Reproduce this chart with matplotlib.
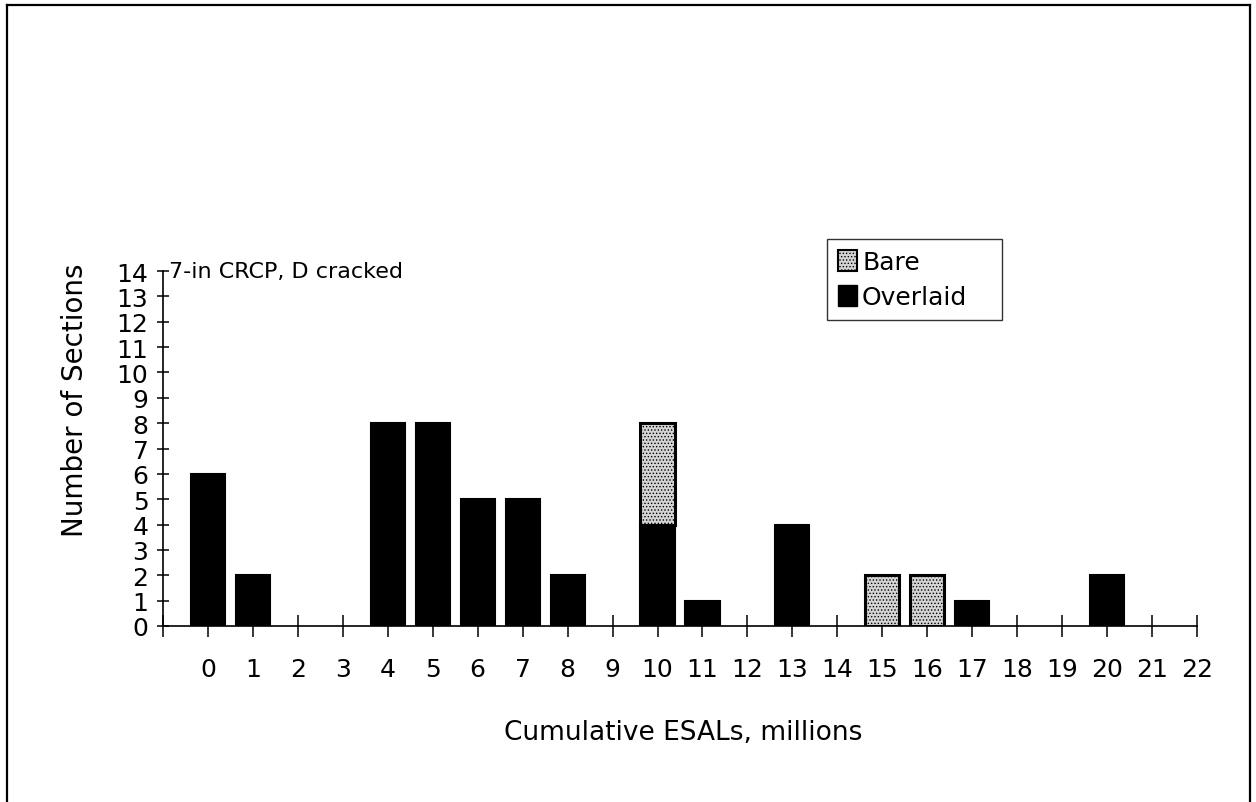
import matplotlib
matplotlib.use("Agg")
import matplotlib.pyplot as plt
from matplotlib.patches import Patch
from matplotlib.lines import Line2D

plt.rcParams['font.family'] = ['DejaVu Sans']
plt.rcParams['hatch.linewidth'] = 0.6

categories = list(range(0, 23))
overlaid = [6, 2, 0, 0, 8, 8, 5, 5, 2, 0, 4, 1, 0, 4, 0, 0, 0, 1, 0, 0, 2, 0, 0]
bare = [0, 0, 0, 0, 0, 0, 0, 0, 0, 0, 4, 0, 0, 0, 0, 2, 2, 0, 0, 0, 0, 0, 0]
title_text = "7-in CRCP, D cracked"
x_label = "Cumulative ESALs, millions"
y_label = "Number of Sections"

W, H = 1256, 803
fig = plt.figure(figsize=(W / 100, H / 100), dpi=100)
ax = fig.add_axes([163 / W, 1 - 627 / H, (1197 - 163) / W, (627 - 272) / H])

bare_color = '#d4d4d4'
for x, o, b in zip(categories, overlaid, bare):
    if o > 0:
        ax.bar(x, o, width=0.76, color='black', edgecolor='black', linewidth=1.5, zorder=3)
    if b > 0:
        ax.bar(x, b, bottom=o, width=0.76, color=bare_color, edgecolor='black',
               linewidth=2.2, hatch='.....', zorder=3)

ax.set_xlim(-1, 22)
ax.set_ylim(0, 14)
ax.spines['top'].set_visible(False)
ax.spines['right'].set_visible(False)
for s in ('left', 'bottom'):
    ax.spines[s].set_linewidth(1.2)

ax.set_yticks(range(0, 15))
ax.tick_params(axis='y', direction='inout', length=9, width=1.1, labelsize=18, pad=6)
xt = [-1] + categories
ax.set_xticks(xt)
ax.set_xticklabels([''] + [str(c) for c in categories])
ax.tick_params(axis='x', direction='inout', length=16, width=1.1, labelsize=18, pad=14)

ax.set_xlabel(x_label, fontsize=19, va='center')
ax.xaxis.set_label_coords((683 - 163) / 1034, (627 - 733) / 355)
ax.set_ylabel(y_label, fontsize=20, va='center')
ax.yaxis.set_label_coords((75 - 163) / 1034, (627 - 400) / 355)

ax.annotate(title_text, xy=(-1, 14), xytext=(4, 0), textcoords='offset points',
            fontsize=16, va='center', ha='left')

handles = [Patch(facecolor=bare_color, edgecolor='black', linewidth=1.5, hatch='.....', label='Bare'),
           Patch(facecolor='black', edgecolor='black', label='Overlaid')]
leg = fig.legend(handles=handles, loc='upper left', mode='expand',
                 bbox_to_anchor=(827 / W, 1 - 318 / H, 175 / W, 78 / H), frameon=True, fancybox=False,
                 edgecolor='black', fontsize=18, handlelength=0.75, handleheight=0.9,
                 handletextpad=0.2, labelspacing=0.42, borderpad=0.45, borderaxespad=0)
leg.get_frame().set_linewidth(1.0)

# outer border of the figure
fig.add_artist(Line2D([7 / W, 7 / W], [0, 1 - 6 / H], transform=fig.transFigure, color='black', lw=1.6))
fig.add_artist(Line2D([7 / W, 1250 / W], [1 - 6 / H, 1 - 6 / H], transform=fig.transFigure, color='black', lw=1.6))
fig.add_artist(Line2D([1250 / W, 1250 / W], [0, 1 - 6 / H], transform=fig.transFigure, color='black', lw=1.6))

fig.savefig('out.png', dpi=100, facecolor='white')
